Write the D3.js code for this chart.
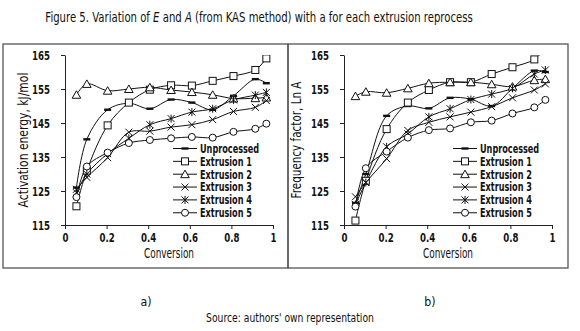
<!DOCTYPE html>
<html>
<head>
<meta charset="utf-8">
<script src="https://cdn.jsdelivr.net/npm/d3@7/dist/d3.min.js"></script>
<style>
  body { margin: 0; background: #fff; }
  svg { display: block; }
  text { font-family: "DejaVu Sans", sans-serif; fill: #111; }
</style>
</head>
<body>
<div id="chart"></div>
<script>
// ── Datos ────────────────────────────────────────────
const conversion = [0.055, 0.105, 0.205, 0.307, 0.408, 0.51, 0.61, 0.71, 0.81, 0.915, 0.968];
const seriesNames = ['Unprocessed', 'Extrusion 1', 'Extrusion 2', 'Extrusion 3', 'Extrusion 4', 'Extrusion 5'];
const markerTypes = ['dash', 'square', 'triangle', 'cross', 'star', 'circle'];
const yTicks = [115, 125, 135, 145, 155, 165];
const xTicks = [0, 0.2, 0.4, 0.6, 0.8, 1];

// a) energía de activación, kJ/mol
const energyUnprocessed = [126, 140.2, 148.9, 150.8, 149.2, 151.9, 151, 148.9, 153, 157.9, 156.7];
const energyExt1 = [120.5, 131, 144.3, 151, 154.8, 156.1, 156, 157.4, 158.8, 160.6, 164];
const energyExt2 = [153.3, 156.5, 154.5, 155, 155.5, 154.7, 154.1, 153.3, 152.2, 152.3, 152.5];
const energyExt3 = [125.5, 129, 134.8, 142.3, 142.6, 143.8, 144.5, 146, 148.4, 149.6, 151.6];
const energyExt4 = [124.5, 130, 136, 140.5, 144.5, 146.3, 148.2, 149.2, 151.8, 153.2, 154];
const energyExt5 = [123.2, 132.2, 136.3, 139.1, 140, 140.5, 140.9, 140.7, 142.4, 143.3, 144.8];

// b) factor de frecuencia, Ln A
const lnAUnprocessed = [121.5, 130, 147.1, 150, 149.3, 152.4, 152, 150, 155.2, 160.4, 160];
const lnAExt1 = [116.3, 128, 143.2, 151, 154.7, 157, 157, 159.4, 161.4, 163.7, 167];
const lnAExt2 = [152.9, 154.2, 153.9, 155.2, 156.7, 157, 157, 156.4, 155.7, 157.6, 157.9];
const lnAExt3 = [123.3, 127.5, 134.5, 142.8, 145.2, 146.8, 148.2, 149.8, 152.4, 154.7, 156.5];
const lnAExt4 = [121, 127.5, 138, 141.8, 146.8, 149.2, 151.9, 153.5, 155.2, 159.4, 160.6];
const lnAExt5 = [120.4, 131.7, 136.6, 140.7, 142.9, 143.4, 145.2, 145.7, 147.8, 149.6, 151.8];

const W = 580, H = 331;
const svg = d3.select('#chart').append('svg').attr('width', W).attr('height', H);

// No hay fuente estrecha instalada: se mide el texto y se comprime en horizontal
// hasta el ancho que tiene en la figura original.
function addText(parent, x, y, str, o = {}) {
    const g = parent.append('g');
    const t = g.append('text')
        .attr('text-anchor', o.anchor || 'middle')
        .attr('dy', o.dy || null)
        .style('font-size', (o.size || 12.5) + 'px')
        .style('font-weight', o.weight || 'normal')
        .text(str);
    g.place = (k) => g.attr('transform',
        `translate(${x},${y})${o.rotate ? ` rotate(${o.rotate})` : ''} scale(${k},1)`);
    g.text = t;
    return g;
}
function fitWidth(g, target) {
    const w = g.text.node().getComputedTextLength();
    g.place(target / w);
}
function measure(str, size, weight) {
    const t = svg.append('text').style('font-size', size + 'px').style('font-weight', weight).text(str);
    const w = t.node().getComputedTextLength();
    t.remove();
    return w;
}

// ── Título ───────────────────────────────────────────
const title = addText(svg, 259, 22, null, { size: 13.5 });
title.text.append('tspan').text('Figure 5. Variation of ');
title.text.append('tspan').style('font-style', 'italic').text('E');
title.text.append('tspan').text(' and ');
title.text.append('tspan').style('font-style', 'italic').text('A');
title.text.append('tspan').text(' (from KAS method) with a for each extrusion reprocess');
fitWidth(title, 428);

fitWidth(addText(svg, 290, 322, "Source: authors' own representation", { size: 12 }), 168);

const kTick = 18 / measure('165', 13, 'bold');
const kLegend = 52 / measure('Extrusion 1', 12, 'bold');
const kLabel = 50 / measure('Conversion', 13.5, 'normal');

// ── Marcadores ───────────────────────────────────────
function drawMarker(sel, type) {
    const s = 3.5;
    if (type === 'dash') {
        sel.append('rect').attr('x', -3.5).attr('y', -1.2).attr('width', 7).attr('height', 2.4).attr('fill', '#111');
    } else if (type === 'square') {
        sel.append('rect').attr('x', -s).attr('y', -s).attr('width', 2 * s).attr('height', 2 * s)
            .attr('fill', '#fff').attr('stroke', '#111').attr('stroke-width', 1);
    } else if (type === 'triangle') {
        sel.append('path').attr('d', `M0,${-s - 0.5}L${s + 0.8},${s}L${-s - 0.8},${s}Z`)
            .attr('fill', '#fff').attr('stroke', '#111').attr('stroke-width', 1);
    } else if (type === 'cross') {
        sel.append('path').attr('d', `M${-s},${-s}L${s},${s}M${-s},${s}L${s},${-s}`)
            .attr('stroke', '#111').attr('stroke-width', 1);
    } else if (type === 'star') {
        sel.append('path').attr('d', `M${-s},${-s}L${s},${s}M${-s},${s}L${s},${-s}M0,${-s - 0.5}L0,${s + 0.5}`)
            .attr('stroke', '#111').attr('stroke-width', 1);
    } else if (type === 'circle') {
        sel.append('circle').attr('r', s).attr('fill', '#fff').attr('stroke', '#111').attr('stroke-width', 1);
    }
}

// ── Panel ────────────────────────────────────────────
function drawPanel(cfg) {
    const g = svg.append('g');

    g.append('rect')
        .attr('x', cfg.frame[0]).attr('y', cfg.frame[1])
        .attr('width', cfg.frame[2] - cfg.frame[0]).attr('height', cfg.frame[3] - cfg.frame[1])
        .attr('fill', 'none').attr('stroke', '#555').attr('stroke-width', 1.3);

    const x = d3.scaleLinear().domain([0, 1]).range([cfg.left, cfg.right]);
    const y = d3.scaleLinear().domain([115, 165]).range([225, 55]);

    const xAxis = g.append('g').attr('transform', 'translate(0,225)')
        .call(d3.axisBottom(x).tickValues(xTicks).tickSize(4).tickPadding(4).tickSizeOuter(0).tickFormat(d3.format('')));
    const yAxis = g.append('g').attr('transform', `translate(${cfg.left},0)`)
        .call(d3.axisLeft(y).tickValues(yTicks).tickSize(4).tickPadding(11).tickSizeOuter(0));
    [xAxis, yAxis].forEach(a => {
        a.select('.domain').attr('stroke', '#222');
        a.selectAll('.tick line').attr('stroke', '#222');
        a.selectAll('text')
            .attr('x', function () { return (+d3.select(this).attr('x') || 0) / kTick; })
            .attr('transform', `scale(${kTick},1)`)
            .style('font-size', '13px').style('font-weight', 'bold')
            .style('font-family', '"DejaVu Sans", sans-serif').attr('fill', '#111');
    });

    fitWidth(addText(g, cfg.yLabelX, 140, cfg.yLabel, { rotate: -90, size: 13.5 }), cfg.yLabelW);
    addText(g, (cfg.left + cfg.right) / 2, 258, 'Conversion', { size: 13.5 }).place(kLabel);
    addText(g, cfg.tagX, 306, cfg.tag, { size: 13 }).place(0.85);

    const clipId = 'clip-' + cfg.tag.replace(')', '');
    svg.append('clipPath').attr('id', clipId)
        .append('rect').attr('x', cfg.left).attr('y', 55).attr('width', cfg.right - cfg.left).attr('height', 170);

    const plot = g.append('g').attr('clip-path', `url(#${clipId})`);
    const line = d3.line()
        .x((d, i) => x(conversion[i]))
        .y(d => y(d))
        .curve(d3.curveCatmullRom.alpha(0.5));

    cfg.series.forEach((vals) => {
        plot.append('path').datum(vals)
            .attr('d', line)
            .attr('fill', 'none').attr('stroke', '#111').attr('stroke-width', 1);
    });
    cfg.series.forEach((vals, si) => {
        vals.forEach((v, i) => {
            const m = plot.append('g').attr('transform', `translate(${x(conversion[i])},${y(v)})`);
            drawMarker(m, markerTypes[si]);
        });
    });

    // ── Leyenda ──
    const leg = g.append('g');
    seriesNames.forEach((name, i) => {
        const ly = 148.5 + i * 12.85;
        leg.append('line')
            .attr('x1', cfg.legendX).attr('x2', cfg.legendX + 24)
            .attr('y1', ly).attr('y2', ly)
            .attr('stroke', '#111').attr('stroke-width', 1);
        const m = leg.append('g').attr('transform', `translate(${cfg.legendX + 12},${ly})`);
        drawMarker(m, markerTypes[i]);
        addText(leg, cfg.legendX + 27, ly, name, { anchor: 'start', dy: '0.36em', size: 12, weight: 'bold' }).place(kLegend);
    });
}

drawPanel({
    frame: [3, 44, 288, 268],
    left: 65, right: 273,
    yLabel: 'Activation energy, kJ/mol', yLabelX: 28, yLabelW: 135,
    legendX: 173, tag: 'a)', tagX: 146,
    series: [energyUnprocessed, energyExt1, energyExt2, energyExt3, energyExt4, energyExt5]
});
drawPanel({
    frame: [288, 44, 568, 268],
    left: 344, right: 552,
    yLabel: 'Frequency factor, Ln A', yLabelX: 301, yLabelW: 117,
    legendX: 453, tag: 'b)', tagX: 430,
    series: [lnAUnprocessed, lnAExt1, lnAExt2, lnAExt3, lnAExt4, lnAExt5]
});
</script>
</body>
</html>
